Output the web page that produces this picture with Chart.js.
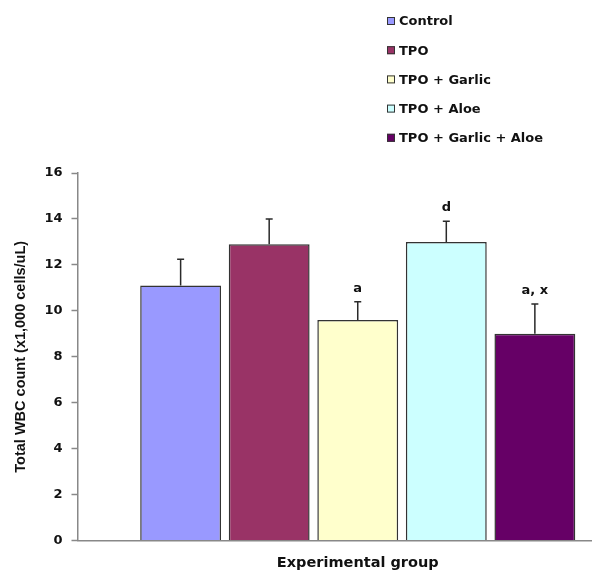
<!DOCTYPE html>
<html>
<head>
<meta charset="utf-8">
<script src="https://cdn.jsdelivr.net/npm/chart.js@4.4.1/dist/chart.umd.min.js"></script>
<style>
  html, body { margin: 0; padding: 0; background: #fff; overflow: hidden; }
  #wrap { width: 638px; height: 573px; }
</style>
</head>
<body>
<div id="wrap"><canvas id="chart" width="638" height="573"></canvas></div>
<script>
// data
var groups = ['Control', 'TPO', 'TPO + Garlic', 'TPO + Aloe', 'TPO + Garlic + Aloe'];
var wbcMean = [11.1, 12.9, 9.6, 13.0, 9.0];
var wbcErr = [1.15, 1.1, 0.8, 0.9, 1.3];
var sigLabels = ['', '', 'a', 'd', 'a, x'];
var yTicks = [0, 2, 4, 6, 8, 10, 12, 14, 16];

var barColors = ['#9999ff', '#993366', '#ffffcc', '#ccffff', '#660066'];
var WIDE = '"DejaVu Sans", Verdana, sans-serif';
var ARIAL = '"Liberation Sans", Arial, sans-serif';

var datasets = groups.map(function(g, i){
	return {
		label: g,
		data: [wbcMean[i]],
		err: wbcErr[i],
		sig: sigLabels[i],
		backgroundColor: barColors[i],
		borderColor: '#333333',
		borderWidth: 1.5,
		barPercentage: 0.913,
		categoryPercentage: 0.79
	};
});

// error bars (upper only) + letters
var errorBars = {
	id: 'errorBars',
	afterDatasetsDraw: function(chart){
		var ctx = chart.ctx;
		var y = chart.scales.y;
		chart.data.datasets.forEach(function(ds, i){
			var bar = chart.getDatasetMeta(i).data[0];
			var top = y.getPixelForValue(ds.data[0] + ds.err);
			ctx.save();
			ctx.strokeStyle = '#2a2a2a';
			ctx.lineWidth = 1.5;
			ctx.beginPath();
			ctx.moveTo(bar.x, bar.y);
			ctx.lineTo(bar.x, top);
			ctx.moveTo(bar.x - 3.5, top);
			ctx.lineTo(bar.x + 3.5, top);
			ctx.stroke();
			if (ds.sig) {
				ctx.fillStyle = '#111';
				ctx.font = 'bold 13px ' + WIDE;
				ctx.textAlign = 'center';
				ctx.textBaseline = 'alphabetic';
				ctx.fillText(ds.sig, bar.x, top - 10);
			}
			ctx.restore();
		});
	}
};

// legend, top right, one row per group
var sideLegend = {
	id: 'sideLegend',
	afterDraw: function(chart){
		var ctx = chart.ctx;
		ctx.save();
		ctx.font = 'bold 13px ' + WIDE;
		ctx.textBaseline = 'middle';
		chart.data.datasets.forEach(function(ds, i){
			var cy = 21 + i * 29.2;
			ctx.fillStyle = ds.backgroundColor;
			ctx.fillRect(387, cy - 4, 8, 8);
			ctx.strokeStyle = '#333';
			ctx.lineWidth = 1;
			ctx.strokeRect(387.5, cy - 3.5, 7, 7);
			ctx.fillStyle = '#111';
			ctx.fillText(ds.label, 399, cy + 1);
		});
		ctx.restore();
	}
};

var dropChart = new Chart(document.getElementById('chart').getContext('2d'), {
	type: 'bar',
	data: {
		labels: ['Experimental group'],
		datasets: datasets
	},
	options: {
		responsive: false,
		animation: false,
		layout: { padding: { top: 173, right: 0, left: 12, bottom: 1 } },
		plugins: {
			legend: { display: false },
			tooltip: { enabled: false }
		},
		scales: {
			x: {
				grid: { display: false, drawTicks: false },
				border: { color: '#888', width: 1.5 },
				ticks: { display: false },
				title: {
					display: true,
					text: 'Experimental group',
					font: { family: WIDE, size: 14.5, weight: 'bold' },
					color: '#111',
					padding: { top: 14, bottom: 0 }
				}
			},
			y: {
				min: 0,
				max: 16,
				afterBuildTicks: function(axis){
					axis.ticks = yTicks.map(function(v){ return { value: v }; });
				},
				grid: { display: true, drawOnChartArea: false, drawTicks: true, tickLength: 6, tickColor: '#888', tickWidth: 1.5 },
				border: { color: '#888', width: 1.5 },
				ticks: {
					font: { family: WIDE, size: 13, weight: 'bold' },
					color: '#111',
					padding: 9
				},
				title: {
					display: true,
					text: 'Total WBC count (x1,000 cells/uL)',
					font: { family: ARIAL, size: 14.5, weight: 'bold' },
					color: '#111',
					padding: { top: 0, bottom: 6 }
				}
			}
		}
	},
	plugins: [errorBars, sideLegend]
});
</script>
</body>
</html>
